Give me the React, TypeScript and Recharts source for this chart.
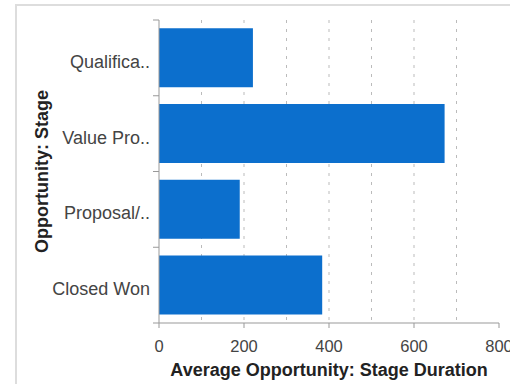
import { BarChart, Bar, XAxis, YAxis, CartesianGrid } from "recharts"

const stages = ["Qualifica..", "Value Pro..", "Proposal/..", "Closed Won"]
const durations = [221, 672, 190, 384]
const xTicks = [0, 200, 400, 600, 800]
const gridValues = [100, 200, 300, 400, 500, 600, 700]

const BAR_COLOR = "#0c6fcd"
const AXIS_COLOR = "#999999"
const TEXT_COLOR = "#444444"
const FONT = "'Liberation Sans', Arial, sans-serif"

const data = stages.map((stage, i) => ({ stage, duration: durations[i] }))

// category tick: label plus a short tick at the band boundary
function StageTick(props: any) {
  const { x, y, payload, index, visibleTicksCount, height } = props
  const half = payload.offset || height / visibleTicksCount / 2
  const last = index === visibleTicksCount - 1
  return (
    <g>
      <line x1={x - 6} x2={x} y1={y - half} y2={y - half} stroke={AXIS_COLOR} />
      {last && <line x1={x - 6} x2={x} y1={y + half} y2={y + half} stroke={AXIS_COLOR} />}
      <text
        x={x - 9}
        y={y + 4}
        textAnchor="end"
        dominantBaseline="central"
        fontSize={18}
        fill={TEXT_COLOR}
        fontFamily={FONT}
      >
        {payload.value}
      </text>
    </g>
  )
}

function YTitle(props: any) {
  const vb = props.viewBox || {}
  const cy = (vb.y ?? 0) + (vb.height ?? 0) / 2
  return (
    <text
      transform={`translate(42, ${cy}) rotate(-90)`}
      textAnchor="middle"
      dominantBaseline="central"
      fontSize={18}
      fontWeight="bold"
      fill="#222"
      fontFamily={FONT}
    >
      Opportunity: Stage
    </text>
  )
}

export default function App() {
  return (
    <div
      style={{
        position: "absolute",
        left: 0,
        top: 0,
        width: 510,
        height: 384,
        overflow: "hidden",
        background: "#fff",
        fontFamily: FONT,
      }}
    >
      <div
        style={{
          position: "absolute",
          left: 15,
          top: 4,
          width: 540,
          height: 420,
          border: "2px solid #dddddd",
        }}
      />
      <div style={{ position: "absolute", left: 0, top: 0 }}>
        <BarChart
          width={510}
          height={384}
          data={data}
          layout="vertical"
          barCategoryGap="11%"
          margin={{ top: 20, right: 11, bottom: 0, left: 0 }}
        >
          <CartesianGrid
            horizontal={false}
            verticalValues={gridValues}
            stroke="#bbbbbb"
            strokeDasharray="3 6"
          />
          <XAxis
            type="number"
            domain={[0, 800]}
            ticks={xTicks}
            interval={0}
            stroke={AXIS_COLOR}
            tickSize={5}
            tickMargin={12}
            tick={{ fontSize: 16.5, fill: TEXT_COLOR, fontFamily: FONT }}
            height={61}
            label={{
              value: "Average Opportunity: Stage Duration",
              position: "insideBottom",
              offset: 8,
              fontSize: 18,
              fontWeight: "bold",
              fill: "#222",
              fontFamily: FONT,
            }}
          />
          <YAxis
            type="category"
            dataKey="stage"
            width={159}
            stroke={AXIS_COLOR}
            tickLine={false}
            tickSize={0}
            tickMargin={0}
            tick={<StageTick />}
            label={<YTitle />}
          />
          <Bar dataKey="duration" fill={BAR_COLOR} isAnimationActive={false} />
        </BarChart>
      </div>
    </div>
  )
}
